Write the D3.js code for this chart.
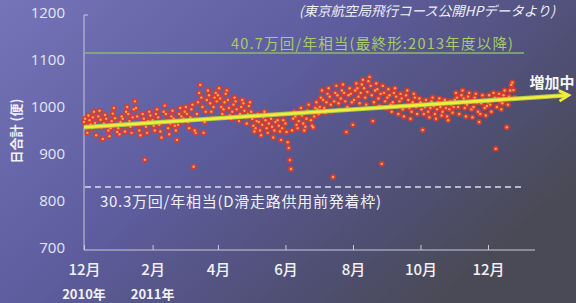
<!DOCTYPE html>
<html><head><meta charset="utf-8">
<script src="https://cdn.jsdelivr.net/npm/d3@7"></script>
<style>html,body{margin:0;padding:0;overflow:hidden;background:#55557a}</style>
</head><body>
<script>
// ---- data ----
const startDate = "2010-12-01";
const dec2010 = [968,975,960,945,982,972,963,955,978,990,966,940,958,980,992,973,957,932,965,983,975,961,950,938,955,970,986,998,976,960,947];
const jan2011 = [955,942,968,980,975,960,948,990,1000,985,970,958,945,978,995,1012,998,980,962,950,940,965,985,975,888,958,945,970,990,982,965];
const feb2011 = [972,960,950,985,995,978,962,948,935,968,990,1003,985,970,955,942,965,980,992,975,960,950,930,962,985,998,980,968];
const mar2011 = [975,990,1000,985,968,955,978,995,1005,873,950,945,985,1010,1030,1047,1020,1000,945,968,990,1015,1035,1025,1008,990,975,1000,1020,1030,1012];
const apr2011 = [1025,1040,1018,1000,985,995,1010,1028,1035,1015,998,982,975,990,1005,1020,1012,995,980,970,985,1000,1015,1008,992,978,965,985,1002,1010];
const may2011 = [990,975,960,948,955,970,985,968,950,940,962,978,990,972,955,945,965,982,975,958,935,950,968,985,972,960,948,930,955,972,985];
const jun2011 = [965,947,925,913,887,868,950,975,990,980,962,955,970,985,998,982,965,950,958,975,992,1005,990,972,960,957,980,998,1010,995];
const jul2011 = [985,1000,1020,1035,1015,998,988,1010,1028,1040,1022,1005,990,851,1012,1030,1045,1025,1008,995,1018,1035,1048,1030,1012,947,1000,1025,1040,1028,1010];
const aug2011 = [962,1015,1035,1050,1040,1022,1008,1030,1048,1058,1040,1020,1005,1032,1055,1064,1045,1025,970,1010,1035,1050,1038,1018,1002,1028,879,1045,1030,1012,998];
const sep2011 = [1020,1038,1025,1005,990,1010,1030,1040,1022,1000,985,1012,1028,1018,995,980,1002,1025,1035,1015,998,975,990,1010,1028,1020,1000,985,1005,1018];
const oct2011 = [1010,995,951,985,1000,1015,1005,990,978,998,1012,1020,1002,985,975,995,1010,1018,1000,982,990,1008,1015,998,980,972,995,1012,1005,988,1000];
const nov2011 = [1015,1030,1020,1000,985,1010,1025,1035,1018,998,980,1005,1022,1030,1012,995,978,1000,1020,1028,1010,990,968,985,1008,1025,1015,998,982,1002];
const dec2011 = [1010,1025,1005,990,1015,1030,1020,911,1000,1018,1028,1012,995,1008,1025,1035,1018,957,1005,1022,1035,1047,1052,1036,1020];
const dailyValues = [].concat(dec2010,jan2011,feb2011,mar2011,apr2011,may2011,jun2011,jul2011,aug2011,sep2011,oct2011,nov2011,dec2011);

const yTicks = [700,800,900,1000,1100,1200];
const xTickDates = ["2010-12-01","2011-02-01","2011-04-01","2011-06-01","2011-08-01","2011-10-01","2011-12-01"];
const xTickLabels = ["12月","2月","4月","6月","8月","10月","12月"];
const yearLabels = [{date:"2010-12-01",text:"2010年"},{date:"2011-02-01",text:"2011年"}];
const refLines = [
  {value:1115, label:"40.7万回/年相当(最終形:2013年度以降)", kind:"final"},
  {value:830, label:"30.3万回/年相当(D滑走路供用前発着枠)", kind:"before"}
];
const trend = [{date:"2010-12-01",value:957},{date:"2012-02-12",value:1025}];
const trendLabel = "増加中";
const yTitle = "日合計 (便)";
const sourceText = "(東京航空局飛行コース公開HPデータより)";

// ---- chart ----
const W=576,H=303;
const parse = d3.utcParse("%Y-%m-%d");
const svg = d3.select("body").append("svg").attr("width",W).attr("height",H);
const defs = svg.append("defs");
const g1 = defs.append("linearGradient").attr("id","bg").attr("x1","0").attr("y1","0").attr("x2","1").attr("y2","0.6");
g1.append("stop").attr("offset","0").attr("stop-color","#7674b8");
g1.append("stop").attr("offset","0.45").attr("stop-color","#5e5da0");
g1.append("stop").attr("offset","0.8").attr("stop-color","#4f4f74");
g1.append("stop").attr("offset","1").attr("stop-color","#4a4a56");
svg.append("rect").attr("width",W).attr("height",H).attr("fill","url(#bg)");
const blur = defs.append("filter").attr("id","glow").attr("x","-1").attr("y","-1").attr("width","3").attr("height","3");
blur.append("feGaussianBlur").attr("stdDeviation","0.6");

const x = d3.scaleUtc().domain([parse("2010-12-01"), parse("2011-12-01")]).range([84,488]);
const y = d3.scaleLinear().domain([700,1200]).range([248,13]);
const xEnd = 535;

const jp = "'Noto Sans CJK JP', 'Noto Sans', sans-serif";
const axisColor = "#c9c9dc";

// y axis
const yAxis = svg.append("g").attr("transform","translate(84,0)")
  .call(d3.axisLeft(y).tickValues(yTicks).tickSize(0).tickPadding(19).tickFormat(d3.format("d")));
yAxis.select(".domain").attr("stroke",axisColor).attr("stroke-width",1).attr("d",`M0,${y(1200)+2}V${y(700)+2}`);
yAxis.selectAll("text").attr("fill","#e6e6f0").attr("font-size",15).attr("font-family","'Open Sans', sans-serif");
svg.append("line").attr("x1",84).attr("x2",88).attr("y1",y(1200)+2).attr("y2",y(1200)+2).attr("stroke",axisColor);

// x axis
const xAxis = svg.append("g").attr("transform",`translate(0,${y(700)+2})`)
  .call(d3.axisBottom(x).tickValues(xTickDates.map(parse)).tickSize(-5).tickFormat((d,i)=>xTickLabels[i]).tickPadding(14));
xAxis.select(".domain").attr("stroke",axisColor).attr("d",`M84,0H${xEnd}`);
xAxis.selectAll("line").attr("stroke",axisColor);
xAxis.selectAll("text").attr("fill","#f2f2f6").attr("font-size",15).attr("font-family",jp).attr("font-weight",500);
svg.selectAll(".year").data(yearLabels).enter().append("text")
  .attr("x",d=>x(parse(d.date))).attr("y",299).attr("text-anchor","middle")
  .attr("fill","#f2f2f6").attr("font-size",13).attr("font-weight",700).attr("font-family",jp).text(d=>d.text);

// reference lines
const refFinal = refLines[0], refBefore = refLines[1];
svg.append("line").attr("x1",85).attr("x2",524).attr("y1",y(refFinal.value)).attr("y2",y(refFinal.value))
  .attr("stroke","#8fb86a").attr("stroke-width",1.6);
svg.append("text").attr("x",231).attr("y",y(refFinal.value)-4).attr("text-anchor","start")
  .attr("textLength",282).attr("lengthAdjust","spacing")
  .attr("fill","#a7cc6a").attr("font-size",14.5).attr("font-family",jp).text(refFinal.label);
svg.append("line").attr("x1",85).attr("x2",525).attr("y1",y(refBefore.value)).attr("y2",y(refBefore.value))
  .attr("stroke","#dcdcec").attr("stroke-width",1.5).attr("stroke-dasharray","6,4");
svg.append("text").attr("x",100).attr("y",y(refBefore.value)+20).attr("text-anchor","start")
  .attr("textLength",281).attr("lengthAdjust","spacing")
  .attr("fill","#f0f0f6").attr("font-size",15).attr("font-family",jp).text(refBefore.label);

// points
const pts = dailyValues.map((v,i)=>({date:d3.utcDay.offset(parse(startDate),i),value:v}));
const pg = svg.append("g");
pg.selectAll("circle.o").data(pts).enter().append("circle")
  .attr("cx",d=>x(d.date)).attr("cy",d=>y(d.value)).attr("r",3)
  .attr("fill","#e03a2c").attr("opacity",0.85).attr("filter","url(#glow)");
pg.selectAll("circle.i").data(pts).enter().append("circle")
  .attr("cx",d=>x(d.date)).attr("cy",d=>y(d.value)).attr("r",1.2)
  .attr("fill","#ffa24a");

// trend
const tx1=x(parse(trend[0].date)), ty1=y(trend[0].value), tx2=x(parse(trend[1].date)), ty2=y(trend[1].value);
svg.append("line").attr("x1",tx1).attr("y1",ty1).attr("x2",tx2-2).attr("y2",ty2+0.1)
  .attr("stroke","#a8c850").attr("stroke-width",4.5);
svg.append("line").attr("x1",tx1).attr("y1",ty1).attr("x2",tx2-2).attr("y2",ty2+0.1)
  .attr("stroke","#f4ec3a").attr("stroke-width",2.6);
const ang = Math.atan2(ty2-ty1, tx2-tx1);
const ah = 11, aw = 0.5;
const p1=[tx2-ah*Math.cos(ang-aw), ty2-ah*Math.sin(ang-aw)];
const p2=[tx2-ah*Math.cos(ang+aw), ty2-ah*Math.sin(ang+aw)];
svg.append("path").attr("d",`M${p1}L${tx2},${ty2}L${p2}`).attr("fill","none")
  .attr("stroke","#f4ec3a").attr("stroke-width",2.8).attr("stroke-linejoin","miter");
svg.append("text").attr("x",552).attr("y",ty2-7).attr("text-anchor","middle")
  .attr("fill","#f6f6f6").attr("font-size",15).attr("font-weight",700).attr("font-family",jp).text(trendLabel);

// titles
svg.append("text").attr("transform","translate(21,131) rotate(-90)").attr("text-anchor","middle")
  .attr("fill","#f0f0f6").attr("font-size",13).attr("font-weight",700).attr("font-family",jp).text(yTitle);
svg.append("text").attr("x",427).attr("y",16).attr("text-anchor","middle")
  .attr("fill","#eeeef4").attr("font-size",13.5).attr("font-style","italic").attr("font-family",jp).text(sourceText);
</script>
</body></html>
